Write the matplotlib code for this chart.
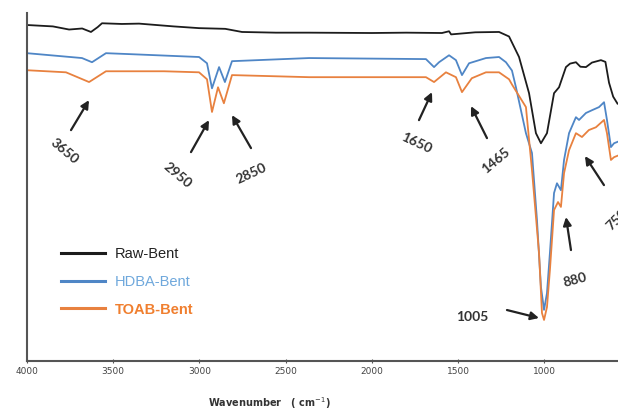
import matplotlib.pyplot as plt

# FTIR spectra (wavenumber in cm-1, transmittance in arbitrary %)
wn_raw = [4000, 3850, 3756, 3680, 3629, 3590, 3565, 3450, 3350, 3150, 3002, 2850, 2753,
          2556, 2364, 2000, 1800, 1593, 1552, 1540, 1400, 1262, 1204, 1146, 1088, 1048,
          1019, 984, 943, 914, 874, 850, 816, 790, 758, 723, 671, 645, 624, 600, 575]
t_raw = [96.6, 96.2, 95.3, 95.6, 94.6, 96.0, 97.1, 96.9, 97.0, 96.2, 95.7, 95.5, 94.6,
         94.4, 94.4, 94.3, 94.4, 94.3, 94.8, 93.9, 94.5, 94.6, 93.3, 87.4, 77.0, 65.5,
         62.6, 65.5, 77.0, 78.7, 84.5, 85.5, 85.9, 84.6, 84.5, 85.8, 86.5, 86.0, 80.0, 76.0, 74.0]

wn_hdba = [4000, 3681, 3623, 3542, 3391, 3002, 2956, 2927, 2886, 2852, 2811, 2364, 1686,
           1639, 1610, 1552, 1512, 1477, 1436, 1338, 1262, 1222, 1187, 1164, 1106, 1071,
           1042, 1019, 1001, 984, 967, 943, 926, 903, 885, 856, 816, 798, 758, 723, 682,
           653, 636, 613, 595, 575]
t_hdba = [88.5, 87.1, 85.9, 88.5, 88.2, 87.4, 85.6, 78.4, 84.5, 80.2, 86.2, 87.1, 86.8,
          84.5, 85.9, 87.9, 86.5, 82.2, 85.6, 87.1, 87.4, 85.9, 83.5, 78.7, 65.5, 59.8,
          40.5, 21.3, 14.7, 19.5, 31.0, 48.3, 51.1, 49.1, 57.8, 65.5, 70.1, 69.3, 71.3,
          72.1, 73.0, 74.4, 69.3, 61.5, 62.6, 63.0]

wn_toab = [4000, 3774, 3640, 3542, 3205, 3002, 2956, 2927, 2892, 2858, 2811, 2364, 1686,
           1639, 1570, 1512, 1477, 1420, 1338, 1262, 1204, 1187, 1106, 1071, 1030, 1013,
           1001, 984, 967, 943, 920, 903, 885, 856, 816, 781, 741, 700, 653, 636, 613,
           595, 575]
t_toab = [83.6, 83.0, 80.2, 83.3, 83.3, 83.0, 81.0, 71.6, 78.7, 74.1, 82.2, 81.6, 81.6,
          80.2, 83.0, 81.6, 77.3, 81.3, 83.0, 83.0, 81.0, 79.5, 73.0, 54.9, 31.0, 13.8,
          11.8, 15.5, 26.1, 43.4, 45.7, 44.3, 54.0, 60.6, 65.5, 64.4, 66.4, 67.2, 69.3,
          65.5, 57.8, 58.6, 59.0]

series_names = ["Raw-Bent", "HDBA-Bent", "TOAB-Bent"]
series_colors = ["#1c1c1c", "#4f86c6", "#e8813f"]
label_colors = ["#222222", "#6fa8dc", "#f07f2f"]

fig = plt.figure(figsize=(6.18, 4.12), dpi=100)
ax = fig.add_axes([0.0437, 0.1238, 0.9563, 0.8442])

ax.plot(wn_raw, t_raw, color=series_colors[0], lw=1.3, label=series_names[0])
ax.plot(wn_hdba, t_hdba, color=series_colors[1], lw=1.3, label=series_names[1])
ax.plot(wn_toab, t_toab, color=series_colors[2], lw=1.3, label=series_names[2])

ax.set_xlim(4000, 572)
ax.set_ylim(0, 100)
ax.set_xticks([4000, 3500, 3000, 2500, 2000, 1500, 1000])
ax.set_yticks([])
ax.tick_params(axis='x', labelsize=6.5, length=3, direction='inout', color='#555555',
               labelcolor='#444444', pad=3)
for side in ['top', 'right']:
    ax.spines[side].set_visible(False)
for side in ['left', 'bottom']:
    ax.spines[side].set_color('#555555')
    ax.spines[side].set_linewidth(1.5)

ax.set_xlabel("Wavenumber   ( cm$^{-1}$)", fontsize=7, fontweight='bold', color='#333333',
              x=0.41, labelpad=14)


def px(x, y):
    # convert a pixel position of the original picture to data coords
    wn = 4000 - (x - 28) * 5.8
    t = (361 - y) / 3.48
    return wn, t


# peak labels: text, text centre, rotation, arrow tail, arrow head (picture pixels)
ann = [
    ("3650", (65, 151), -40, (72, 130), (90, 100)),
    ("2950", (178, 175), -40, (192, 152), (210, 120)),
    ("2850", (252, 173), 25, (252, 148), (233, 115)),
    ("1650", (417, 143), -25, (420, 120), (433, 92)),
    ("1465", (497, 160), 40, (488, 138), (472, 106)),
    ("880", (576, 280), 15, (572, 250), (567, 217)),
    ("1005", (473, 317), 0, (508, 310), (540, 318)),
    ("750", (618, 220), 45, (605, 185), (586, 156)),
]
for text, pos, rot, tail, head in ann:
    ax.text(*px(*pos), text, rotation=rot, ha='center', va='center', fontsize=10,
            fontweight='bold', color='#333333', family='Lato', clip_on=False)
    ax.annotate("", xy=px(*head), xytext=px(*tail),
                arrowprops=dict(arrowstyle='-|>', color='#222222', lw=1.6,
                                mutation_scale=12, shrinkA=0, shrinkB=0))

leg = ax.legend(loc='lower left', bbox_to_anchor=(0.035, 0.09), frameon=False,
                fontsize=10.5, handlelength=3.0, labelspacing=0.95, handletextpad=0.7)
for txt, col in zip(leg.get_texts(), label_colors):
    txt.set_color(col)
    txt.set_family(['Liberation Sans Narrow', 'Liberation Sans'])
leg.get_texts()[2].set_fontweight('bold')
for line in leg.get_lines():
    line.set_linewidth(2.2)

fig.savefig("out.png", dpi=100)
